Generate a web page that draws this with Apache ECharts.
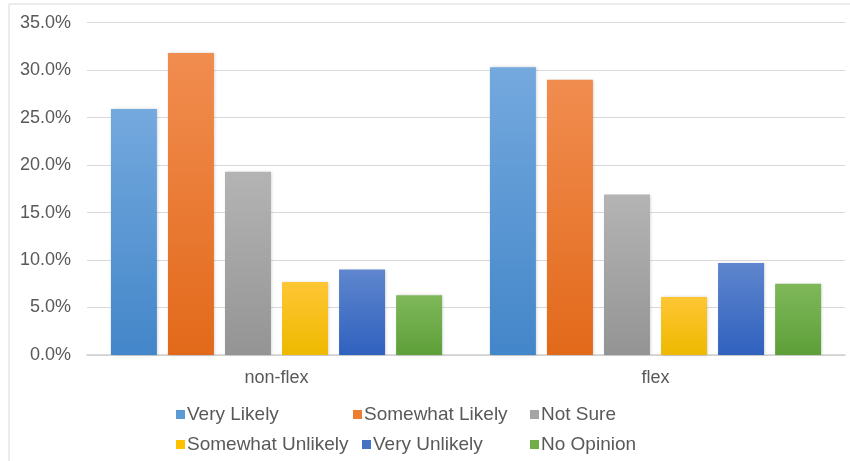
<!DOCTYPE html>
<html>
<head>
<meta charset="utf-8">
<style>
  html, body { margin: 0; padding: 0; background: #ffffff; }
  #chart { width: 850px; height: 461px; }
</style>
<script src="https://cdn.jsdelivr.net/npm/echarts@6/dist/echarts.min.js"></script>
</head>
<body>
<div id="chart"></div>
<script>
// Survey groups along the x axis
const categories = ['non-flex', 'flex'];

// Response shares (percent) per group
const seriesNames = ['Very Likely', 'Somewhat Likely', 'Not Sure', 'Somewhat Unlikely', 'Very Unlikely', 'No Opinion'];
const veryLikely       = [25.9, 30.3];
const somewhatLikely   = [31.8, 29.0];
const notSure          = [19.3, 16.9];
const somewhatUnlikely = [7.7, 6.1];
const veryUnlikely     = [9.0, 9.7];
const noOpinion        = [6.3, 7.5];

// Y axis ticks
const yTicks = [0, 5, 10, 15, 20, 25, 30, 35];

const seriesValues = [veryLikely, somewhatLikely, notSure, somewhatUnlikely, veryUnlikely, noOpinion];

// Solid colours (legend markers) and top/bottom gradient stops for the bars
const solidColors = ['#5b9bd5', '#ed7d31', '#a5a5a5', '#ffc000', '#4472c4', '#70ad47'];
const gradTop     = ['#74a9de', '#f18d50', '#b4b4b4', '#ffc634', '#5f86ce', '#7fb85a'];
const gradBottom  = ['#4386c9', '#e2691a', '#949494', '#eeb900', '#2f61be', '#5e9f39'];

// Legend layout: [left, top] of each entry
const legendSpots = [[176, 405], [353, 405], [530, 405], [176, 435], [362, 435], [530, 435]];

const chart = echarts.init(document.getElementById('chart'), null, { renderer: 'canvas' });

const font = 'Liberation Sans, Arial, sans-serif';
const textColor = '#595959';

const legends = seriesNames.map((name, i) => ({
  data: [{ name: name, itemStyle: { color: solidColors[i] } }],
  left: legendSpots[i][0],
  top: legendSpots[i][1],
  padding: 0,
  icon: 'rect',
  itemWidth: 9,
  itemHeight: 9,
  selectedMode: false,
  textStyle: { fontFamily: font, fontSize: 19, color: textColor, padding: [0, 0, 0, -3] }
}));

const series = seriesNames.map((name, i) => ({
  name: name,
  type: 'bar',
  data: seriesValues[i],
  barWidth: 46,
  barGap: '24%',
  itemStyle: {
    color: new echarts.graphic.LinearGradient(0, 0, 0, 1, [
      { offset: 0, color: gradTop[i] },
      { offset: 1, color: gradBottom[i] }
    ]),
    shadowColor: 'rgba(0,0,0,0.18)',
    shadowBlur: 3,
    shadowOffsetX: 1,
    shadowOffsetY: 0
  },
  emphasis: { disabled: true }
}));

chart.setOption({
  backgroundColor: '#ffffff',
  animation: false,
  graphic: [{
    type: 'rect',
    shape: { x: 9, y: 4, width: 900, height: 500 },
    style: { fill: 'none', stroke: '#d9d9d9', lineWidth: 1 },
    silent: true,
    z: -1
  }],
  grid: { left: 87, right: 5, top: 22.7, bottom: 106, containLabel: false },
  legend: legends,
  xAxis: {
    type: 'category',
    data: categories,
    axisTick: { show: false },
    axisLine: { lineStyle: { color: '#d0d0d0', width: 1.5 } },
    axisLabel: { fontFamily: font, fontSize: 18, color: textColor, margin: 14 }
  },
  yAxis: {
    type: 'value',
    min: yTicks[0],
    max: yTicks[yTicks.length - 1],
    interval: yTicks[1] - yTicks[0],
    axisLine: { show: false },
    axisTick: { show: false },
    splitLine: { lineStyle: { color: '#d9d9d9', width: 1 } },
    axisLabel: {
      fontFamily: font, fontSize: 18, color: textColor, margin: 16,
      formatter: v => v.toFixed(1) + '%'
    }
  },
  series: series
});
</script>
</body>
</html>
